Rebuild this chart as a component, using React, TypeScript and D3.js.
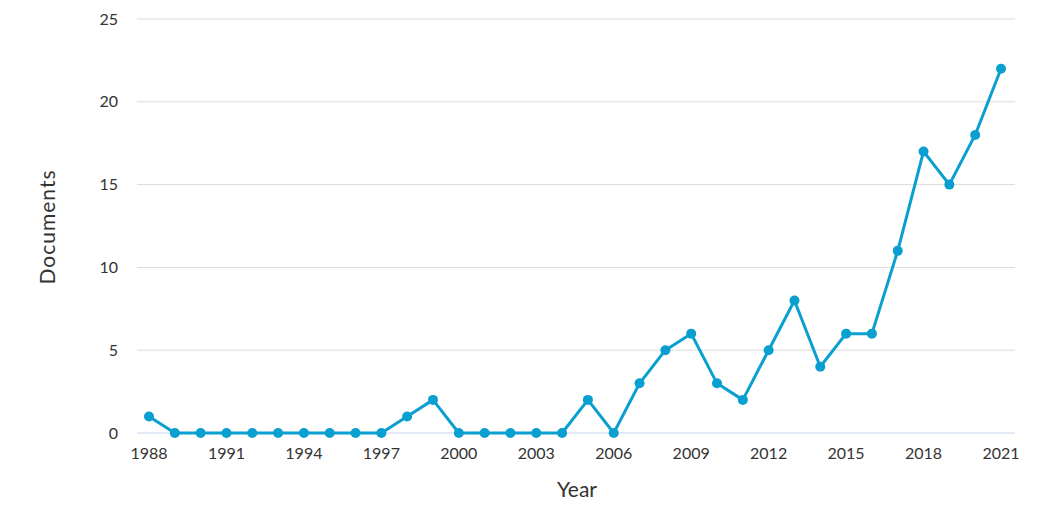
import React from "react";
import * as d3 from "d3";

const years = [1988,1989,1990,1991,1992,1993,1994,1995,1996,1997,1998,1999,2000,2001,2002,2003,2004,2005,2006,2007,2008,2009,2010,2011,2012,2013,2014,2015,2016,2017,2018,2019,2020,2021];
const documents = [1,0,0,0,0,0,0,0,0,0,1,2,0,0,0,0,0,2,0,3,5,6,3,2,5,8,4,6,6,11,17,15,18,22];
const xTicks = [1988,1991,1994,1997,2000,2003,2006,2009,2012,2015,2018,2021];
const yTicks = [0,5,10,15,20,25];

export default function App() {
  const W = 1046, H = 520;
  const x = d3.scaleLinear().domain([1988, 2021]).range([149, 1001]);
  const y = d3.scaleLinear().domain([0, 25]).range([433, 19]);
  const line = d3.line<number>().x((_, i) => x(years[i])).y(d => y(d));
  const font = "Lato, 'Noto Sans', sans-serif";
  const color = "#0a9fd1";
  return (
    <svg width={W} height={H} style={{ position: "absolute", left: 0, top: 0 }} fontFamily={font}>
      {yTicks.map(t => (
        <g key={t}>
          <line x1={137} x2={1015} y1={y(t)} y2={y(t)} stroke={t === 0 ? "#c9d3ee" : "#dcdcdc"} strokeWidth={1} />
          <text x={118} y={y(t)} dy="0.35em" textAnchor="end" fontSize={16} fill="#333">{t}</text>
        </g>
      ))}
      {xTicks.map(t => (
        <text key={t} x={x(t)} y={459} textAnchor="middle" fontSize={16} fill="#333">{t}</text>
      ))}
      <path d={line(documents) || ""} fill="none" stroke={color} strokeWidth={3} strokeLinejoin="round" />
      {documents.map((d, i) => (
        <circle key={i} cx={x(years[i])} cy={y(d)} r={5} fill={color} />
      ))}
      <text transform="translate(55,227) rotate(-90)" textAnchor="middle" fontSize={21} letterSpacing={1} fill="#333">Documents</text>
      <text x={577} y={497} textAnchor="middle" fontSize={21} fill="#333">Year</text>
    </svg>
  );
}
